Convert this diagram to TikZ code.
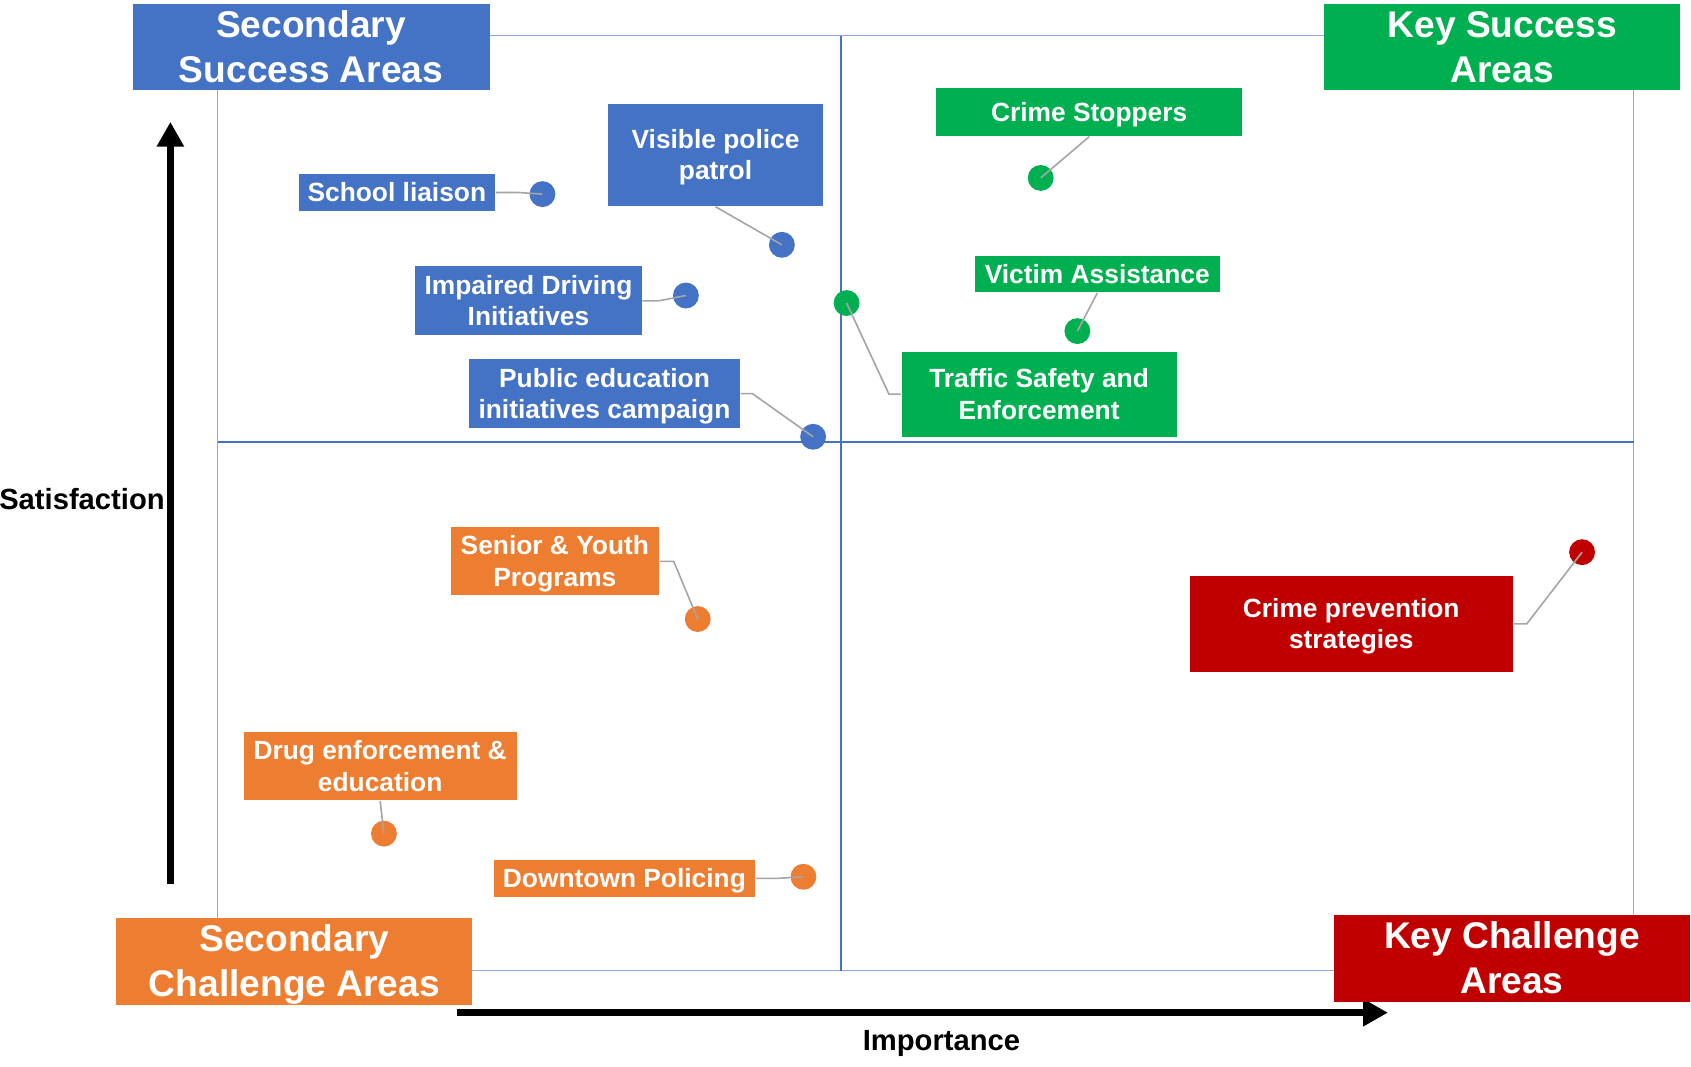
\documentclass[tikz,border=0pt]{standalone}
\usepackage{fontspec}
\setmainfont{Liberation Sans}
\usetikzlibrary{arrows.meta,positioning}
\definecolor{qblue}{HTML}{4472C4}
\definecolor{qgreen}{HTML}{00B050}
\definecolor{qorange}{HTML}{ED7D31}
\definecolor{qred}{HTML}{C00000}
\definecolor{qgray}{HTML}{A5A5A5}
\definecolor{qgrid}{HTML}{8FAADC}
\newcommand{\qs}{\rule[-0.212em]{0pt}{1.117em}}
\tikzset{
  tag/.style={fill=#1,text=white,align=center,inner sep=0pt,font=\fontsize{6.95}{8.3}\selectfont\bfseries},
  area/.style={fill=#1,text=white,align=center,inner sep=0pt,font=\fontsize{9.8}{11.9}\selectfont\bfseries},
  sz/.style 2 args={minimum width=#1mm,minimum height=#2mm},
  spot/.style={circle,fill=#1,inner sep=0pt,minimum size=2.4mm},
  lead/.style={draw=qgray,line width=0.15mm},
  axis/.style={line width=0.6mm,-{Triangle[width=2.4mm,length=2.3mm]}},
  axislabel/.style={font=\fontsize{7.7}{9}\selectfont\bfseries},
}
\begin{document}
\begin{tikzpicture}[x=0.1mm,y=-0.1mm]
  \useasboundingbox (0,0) rectangle (1568,989);
  % quadrant grid
  \draw[qgrid,line width=0.1mm] (202,33) rectangle (1515,900);
  \draw[qblue,line width=0.15mm] (780,33) -- (780,900);
  \draw[qblue,line width=0.15mm] (202,410) -- (1515,410);
  % axes
  \coordinate (ybot) at (158,820);
  \coordinate (ytop) at (158,113);
  \coordinate (xlft) at (424,939);
  \coordinate (xrgt) at (1287,939);
  \draw[axis] (ybot) -- (ytop);
  \draw[axis] (xlft) -- (xrgt);
  \node[axislabel] (sat) at (76,463) {Satisfaction};
  \node[axislabel] (imp) at (873,968) {Importance};
  % corner areas
  \node[area=qblue,sz={33.1}{7.9}] (ssa) at (288.5,43.5) {\qs Secondary\\Success Areas\qs};
  \node[area=qgreen,sz={33}{7.9}] (ksa) at (1393,43.5) {\qs Key Success\\Areas\qs};
  \node[area=qorange,sz={33}{7.9}] (sca) at (273,891.5) {\qs Secondary\\Challenge Areas\qs};
  \node[area=qred,sz={33}{7.9}] (kca) at (1402,888.5) {\qs Key Challenge\\Areas\qs};
  % labels
  \node[tag=qblue,sz={18.2}{3.5}] (sl) at (368,178.5) {\qs School liaison};
  \node[tag=qblue,sz={19.9}{9.5}] (vpp) at (663.5,143.5) {\qs Visible police\\patrol\qs};
  \node[tag=qblue,sz={21}{6.4}] (idi) at (490,279) {\qs Impaired Driving\\Initiatives\qs};
  \node[tag=qblue,sz={25.1}{6.4}] (pei) at (560.5,365) {\qs Public education\\initiatives campaign\qs};
  \node[tag=qgreen,sz={28.4}{4.4}] (cs) at (1010,104) {\qs Crime Stoppers};
  \node[tag=qgreen,sz={22.7}{3.4}] (va) at (1017.5,254) {\qs Victim Assistance};
  \node[tag=qgreen,sz={25.5}{7.9}] (tse) at (963.5,365.5) {\qs Traffic Safety and\\Enforcement\qs};
  \node[tag=qorange,sz={19.3}{6.3}] (syp) at (514.5,520.5) {\qs Senior \& Youth\\Programs\qs};
  \node[tag=qorange,sz={25.3}{6.3}] (dee) at (352.5,710.5) {\qs Drug enforcement \&\\education\qs};
  \node[tag=qorange,sz={24.2}{3.5}] (dtp) at (579,814.5) {\qs Downtown Policing};
  \node[tag=qred,sz={30}{8.9}] (cps) at (1253,578.5) {\qs Crime prevention\\strategies\qs};
  % data points
  \node[spot=qblue] (d1) at (503,180) {};
  \node[spot=qblue] (d2) at (725,227) {};
  \node[spot=qblue] (d3) at (636,274) {};
  \node[spot=qblue] (d4) at (754,405) {};
  \node[spot=qgreen] (d5) at (965,165) {};
  \node[spot=qgreen] (d6) at (999,307) {};
  \node[spot=qgreen] (d7) at (785,281) {};
  \node[spot=qorange] (d8) at (647,574) {};
  \node[spot=qorange] (d9) at (356,773) {};
  \node[spot=qorange] (d10) at (745,813) {};
  \node[spot=qred] (d11) at (1467,512) {};
  % leader lines
  \draw[lead] (sl.east) -- ++(21,0) -- (d1.center);
  \draw[lead] (vpp.south) -- (d2.center);
  \draw[lead] (idi.east) -- ++(15,0) -- (d3.center);
  \draw[lead] (pei.east) -- ++(11,0) -- (d4.center);
  \draw[lead] (cs.south) -- (d5.center);
  \draw[lead] (va.south) -- (d6.center);
  \draw[lead] (tse.west) -- ++(-11,0) -- (d7.center);
  \draw[lead] (syp.east) -- ++(13,0) -- (d8.center);
  \draw[lead] (dee.south) -- (d9.center);
  \draw[lead] (dtp.east) -- ++(20,0) -- (d10.center);
  \draw[lead] (cps.east) -- ++(12,0) -- (d11.center);
\end{tikzpicture}
\end{document}
